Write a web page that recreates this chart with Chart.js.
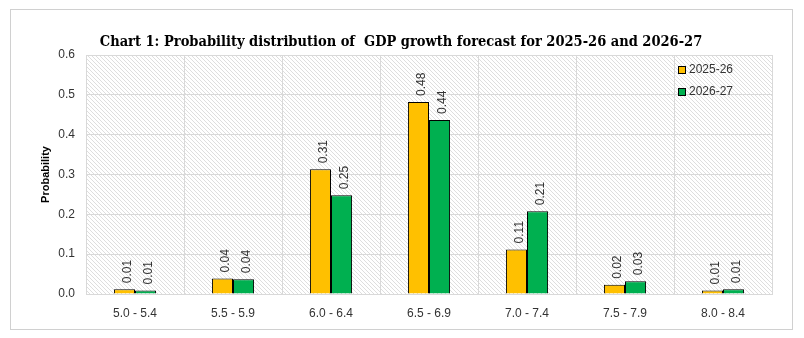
<!DOCTYPE html>
<html>
<head>
<meta charset="utf-8">
<script src="https://cdn.jsdelivr.net/npm/chart.js"></script>
<style>
    html, body { margin: 0; padding: 0; background: #fff; }
    .frame { position: absolute; left: 10px; top: 9px; width: 781px; height: 319px; border: 1px solid #d0d0d0; }
    #wrap { position: absolute; left: 0; top: 0; width: 804px; height: 338px; }
</style>
</head>
<body>
<div class="frame"></div>
<div id="wrap"><canvas id="chart" width="804" height="338"></canvas></div>
<script>
const categories = ['5.0 - 5.4', '5.5 - 5.9', '6.0 - 6.4', '6.5 - 6.9', '7.0 - 7.4', '7.5 - 7.9', '8.0 - 8.4'];
const seriesNames = ['2025-26', '2026-27'];
const values2526 = [0.012, 0.039, 0.313, 0.482, 0.112, 0.023, 0.009];
const values2627 = [0.009, 0.037, 0.248, 0.437, 0.208, 0.032, 0.012];
const yTicks = [0, 0.1, 0.2, 0.3, 0.4, 0.5, 0.6];
const chartTitle = 'Chart 1: Probability distribution of  GDP growth forecast for 2025-26 and 2026-27';

const tickFont = { family: 'Liberation Sans', size: 12 };
const textColor = '#333333';

// diagonal hatch for the plot area
function makeHatch() {
    const c = document.createElement('canvas');
    c.width = 4; c.height = 4;
    const g = c.getContext('2d');
    g.fillStyle = '#fff';
    g.fillRect(0, 0, 4, 4);
    g.fillStyle = '#dedede';
    for (let i = 0; i < 4; i++) g.fillRect(i, i, 1, 1);
    return g.createPattern(c, 'repeat');
}

const hatchPlugin = {
    id: 'hatch',
    beforeDraw(chart) {
        const { ctx, chartArea: a } = chart;
        ctx.save();
        ctx.fillStyle = makeHatch();
        ctx.fillRect(a.left, a.top, a.right - a.left, a.bottom - a.top);
        ctx.restore();
    }
};

// title centred on the frame rather than on the layout box
const titlePlugin = {
    id: 'frameTitle',
    afterDraw(chart) {
        const ctx = chart.ctx;
        ctx.save();
        ctx.font = 'bold 14.5px "DejaVu Serif Condensed", "DejaVu Serif"';
        ctx.fillStyle = '#000';
        ctx.textAlign = 'center';
        ctx.textBaseline = 'alphabetic';
        ctx.fillText(chartTitle, 401, 46);
        ctx.restore();
    }
};

// rotated value labels above bars
const valueLabels = {
    id: 'valueLabels',
    afterDatasetsDraw(chart) {
        const ctx = chart.ctx;
        ctx.save();
        ctx.font = '12px "Liberation Sans"';
        ctx.fillStyle = textColor;
        ctx.textAlign = 'left';
        ctx.textBaseline = 'middle';
        chart.data.datasets.forEach((ds, i) => {
            chart.getDatasetMeta(i).data.forEach((bar, j) => {
                ctx.save();
                ctx.translate(bar.x + 3, bar.y - 6);
                ctx.rotate(-Math.PI / 2);
                ctx.fillText(ds.data[j].toFixed(2), 0, 0);
                ctx.restore();
            });
        });
        ctx.restore();
    }
};

// legend inside the plot, top right
const insideLegend = {
    id: 'insideLegend',
    afterDraw(chart) {
        const ctx = chart.ctx;
        const x = chart.chartArea.right - 94;
        ctx.save();
        ctx.font = '12px "Liberation Sans"';
        ctx.textBaseline = 'middle';
        chart.data.datasets.forEach((ds, i) => {
            const y = 70 + i * 22;
            ctx.fillStyle = ds.backgroundColor;
            ctx.fillRect(x, y - 4, 8, 8);
            ctx.strokeStyle = '#000';
            ctx.lineWidth = 1;
            ctx.strokeRect(x + 0.5, y - 3.5, 7, 7);
            ctx.fillStyle = textColor;
            ctx.fillText(ds.label, x + 11, y);
        });
        ctx.restore();
    }
};

new Chart(document.getElementById('chart'), {
    type: 'bar',
    data: {
        labels: categories,
        datasets: [
            { label: seriesNames[0], data: values2526, backgroundColor: '#ffc000', borderColor: '#000', borderWidth: 1 },
            { label: seriesNames[1], data: values2627, backgroundColor: '#00b050', borderColor: '#000', borderWidth: 1 }
        ]
    },
    options: {
        responsive: false,
        animation: false,
        layout: { padding: { left: 0, right: 32, top: 55, bottom: 0 } },
        datasets: { bar: { categoryPercentage: 0.43, barPercentage: 1 } },
        plugins: {
            legend: { display: false },
            tooltip: { enabled: false },
            title: { display: false }
        },
        scales: {
            x: {
                grid: { color: '#d9d9d9', drawTicks: false },
                border: { color: '#d9d9d9' },
                ticks: { color: textColor, font: tickFont, padding: 12 },
                afterFit(scale) { scale.height = 44; }
            },
            y: {
                min: 0,
                max: 0.6,
                afterBuildTicks(scale) { scale.ticks = yTicks.map(v => ({ value: v })); },
                grid: { color: '#d9d9d9', drawTicks: false },
                border: { color: '#d9d9d9' },
                ticks: { color: textColor, font: tickFont, padding: 11, callback: v => v.toFixed(1) },
                title: {
                    display: true,
                    text: 'Probability',
                    color: '#000',
                    font: { family: 'Liberation Sans', size: 11, weight: 'bold' },
                    padding: { top: 39, bottom: 0 }
                },
                afterFit(scale) { scale.width = 86; }
            }
        }
    },
    plugins: [hatchPlugin, valueLabels, insideLegend, titlePlugin]
});
</script>
</body>
</html>
